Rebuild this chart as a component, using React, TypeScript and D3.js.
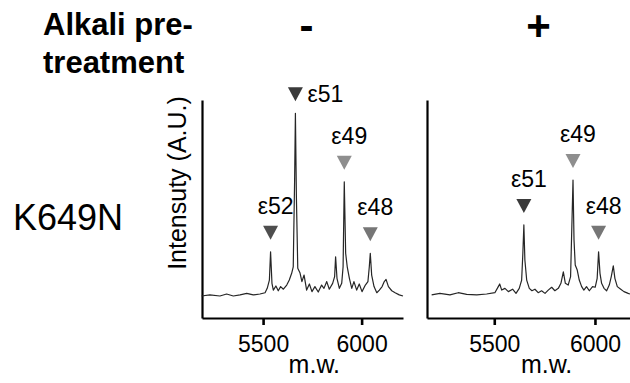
import React, { useEffect, useRef } from "react";
import * as d3 from "d3";

// spectra: [m.w., intensity (A.U.)]
const minusSpectrum: [number, number][] = [
  [5188, 10.1], [5230, 10.6], [5281, 10.1], [5315, 11.0], [5349, 10.1],
  [5383, 10.6], [5417, 11.3], [5450, 10.6], [5484, 11.0], [5510, 11.6],
  [5521, 13.6], [5532, 17.4], [5538, 30.4], [5545, 15.9], [5552, 12.8],
  [5565, 14.7], [5577, 12.5], [5589, 14.4], [5603, 13.2], [5620, 15.1],
  [5633, 17.4], [5645, 20.5], [5653, 23.5], [5660, 63.3], [5664, 93.9],
  [5669, 55.7], [5676, 22.8], [5687, 20.8], [5697, 16.7], [5708, 19.7],
  [5721, 12.8], [5735, 15.6], [5748, 12.1], [5763, 14.4], [5780, 11.9],
  [5797, 15.1], [5809, 13.6], [5823, 16.7], [5836, 13.2], [5853, 15.9],
  [5863, 19.0], [5868, 28.1], [5875, 18.2], [5887, 13.6], [5899, 15.9],
  [5906, 23.5], [5912, 62.5], [5919, 29.7], [5927, 23.5], [5938, 18.2],
  [5950, 13.6], [5961, 16.7], [5975, 12.8], [5988, 15.6], [6002, 12.1],
  [6019, 15.1], [6032, 16.7], [6039, 23.5], [6044, 29.7], [6051, 19.7],
  [6063, 14.4], [6077, 11.6], [6090, 12.8], [6104, 14.4], [6115, 16.7],
  [6124, 17.7], [6136, 14.4], [6153, 12.5], [6170, 11.6], [6191, 10.6],
  [6210, 10.1],
];

const plusSpectrum: [number, number][] = [
  [5189, 10.6], [5230, 11.3], [5280, 10.6], [5321, 11.6], [5363, 10.8],
  [5413, 10.6], [5462, 11.0], [5503, 11.6], [5520, 14.4], [5527, 15.6],
  [5537, 12.8], [5553, 13.6], [5570, 12.1], [5591, 13.2], [5608, 11.3],
  [5624, 13.6], [5636, 17.4], [5642, 29.7], [5647, 42.7], [5652, 26.6],
  [5661, 17.4], [5674, 13.6], [5687, 12.5], [5702, 13.2], [5718, 11.6],
  [5735, 12.5], [5752, 11.3], [5768, 12.8], [5785, 14.1], [5801, 12.5],
  [5818, 13.6], [5831, 15.9], [5843, 21.2], [5853, 15.9], [5867, 15.1],
  [5879, 19.0], [5891, 63.3], [5896, 35.8], [5902, 24.3], [5912, 22.0],
  [5922, 17.4], [5934, 14.4], [5945, 12.8], [5958, 14.4], [5972, 12.5],
  [5988, 14.4], [6001, 14.1], [6011, 18.2], [6018, 30.4], [6025, 20.5],
  [6033, 15.9], [6045, 13.6], [6058, 12.5], [6071, 15.1], [6081, 19.0],
  [6091, 23.9], [6099, 18.2], [6111, 14.4], [6128, 13.2], [6144, 12.1],
  [6165, 11.3], [6174, 11.0],
];

// labelled peaks: name, m.w. of the peak, peak height
const minusPeaks = [
  { name: "ε52", mw: 5538, height: 30.4 },
  { name: "ε51", mw: 5664, height: 93.9 },
  { name: "ε49", mw: 5912, height: 62.5 },
  { name: "ε48", mw: 6044, height: 29.7 },
];
const plusPeaks = [
  { name: "ε51", mw: 5647, height: 42.7 },
  { name: "ε49", mw: 5891, height: 63.3 },
  { name: "ε48", mw: 6018, height: 30.4 },
];

const conditions = ["-", "+"];
const tickValues = [5500, 6000];
const mutantName = "K649N";
const titleLines = ["Alkali pre-", "treatment"];
const yTitle = "Intensuty (A.U.)";
const xTitle = "m.w.";

const markerFill: Record<string, string> = {
  "ε52": "#4e4e4e",
  "ε51": "#3a3a3a",
  "ε49": "#8e8e8e",
  "ε48": "#767676",
};

const FONT = "'Liberation Sans', Arial, sans-serif";

const App = () => {
  const ref = useRef<SVGSVGElement>(null);

  useEffect(() => {
    const svg = d3.select(ref.current);
    svg.selectAll("*").remove();

    const width = 630;
    const height = 383;
    svg.attr("width", width).attr("height", height);

    const top = 100;
    const bottom = 318;
    const y = d3.scaleLinear().domain([0, 100]).range([bottom, top]);

    const panels = [
      {
        sign: conditions[0],
        data: minusSpectrum,
        peaks: minusPeaks,
        x: d3.scaleLinear().domain([5190, 6210]).range([202, 403]),
      },
      {
        sign: conditions[1],
        data: plusSpectrum,
        peaks: plusPeaks,
        x: d3.scaleLinear().domain([5166, 6174]).range([427, 630]),
      },
    ];

    // heading
    const title = svg
      .append("text")
      .attr("font-family", FONT)
      .attr("font-size", 31)
      .attr("font-weight", "bold")
      .attr("fill", "#000");
    titleLines.forEach((t, i) => {
      title
        .append("tspan")
        .attr("x", 43)
        .attr("y", 35 + i * 38)
        .text(t);
    });

    svg
      .append("text")
      .attr("x", 13)
      .attr("y", 230)
      .attr("font-family", FONT)
      .attr("font-size", 36)
      .attr("fill", "#000")
      .text(mutantName);

    svg
      .append("text")
      .attr("transform", "translate(186, 183) rotate(-90)")
      .attr("text-anchor", "middle")
      .attr("font-family", FONT)
      .attr("font-size", 25)
      .attr("fill", "#000")
      .text(yTitle);

    const line = d3.line<[number, number]>();

    panels.forEach((p) => {
      const x = p.x;
      const g = svg.append("g");

      // + / - heading
      g.append("text")
        .attr("x", x(5720))
        .attr("y", 40)
        .attr("text-anchor", "middle")
        .attr("font-family", FONT)
        .attr("font-size", 42)
        .attr("font-weight", "bold")
        .attr("fill", "#000")
        .text(p.sign);

      // x axis
      const xAxis = g
        .append("g")
        .attr("transform", `translate(0, ${bottom})`)
        .call(
          d3
            .axisBottom(x)
            .tickValues(tickValues)
            .tickSize(7)
            .tickSizeOuter(0)
            .tickPadding(11)
            .tickFormat(d3.format("d"))
        );
      xAxis.select(".domain").attr("stroke", "#000").attr("stroke-width", 2.2);
      xAxis.selectAll(".tick line").attr("stroke", "#000").attr("stroke-width", 2.6);
      xAxis
        .selectAll(".tick text")
        .attr("font-family", FONT)
        .attr("font-size", 23)
        .attr("fill", "#000");

      // y axis (line only)
      const yAxis = g
        .append("g")
        .attr("transform", `translate(${x.range()[0]}, 0)`)
        .call(d3.axisLeft(y).tickValues([]).tickSizeOuter(0));
      yAxis.select(".domain").attr("stroke", "#000").attr("stroke-width", 2.2);

      g.append("text")
        .attr("x", x(5760))
        .attr("y", 373)
        .attr("text-anchor", "middle")
        .attr("font-family", FONT)
        .attr("font-size", 25)
        .attr("fill", "#000")
        .text(xTitle);

      // spectrum
      g.append("path")
        .attr("d", line(p.data.map(([m, v]) => [x(m), y(v)] as [number, number])))
        .attr("fill", "none")
        .attr("stroke", "#262626")
        .attr("stroke-width", 1.2)
        .attr("stroke-linejoin", "round");

      // peak markers
      p.peaks.forEach((pk) => {
        const cx = x(pk.mw);
        const triBottom = y(pk.height) - 12;
        const triTop = triBottom - 14;
        g.append("path")
          .attr(
            "d",
            `M${cx - 7.5},${triTop}L${cx + 7.5},${triTop}L${cx},${triBottom}Z`
          )
          .attr("fill", markerFill[pk.name]);

        const label = g
          .append("text")
          .attr("font-family", FONT)
          .attr("font-size", 23)
          .attr("fill", "#000")
          .text(pk.name);
        if (triTop - 12 < top - 10) {
          label.attr("x", cx + 12).attr("y", triBottom + 1);
        } else {
          label
            .attr("x", cx + 5)
            .attr("y", triTop - 12)
            .attr("text-anchor", "middle");
        }
      });
    });
  }, []);

  return (
    <svg
      ref={ref}
      style={{ position: "absolute", left: 0, top: 0, background: "#fff" }}
    ></svg>
  );
};

export default App;
